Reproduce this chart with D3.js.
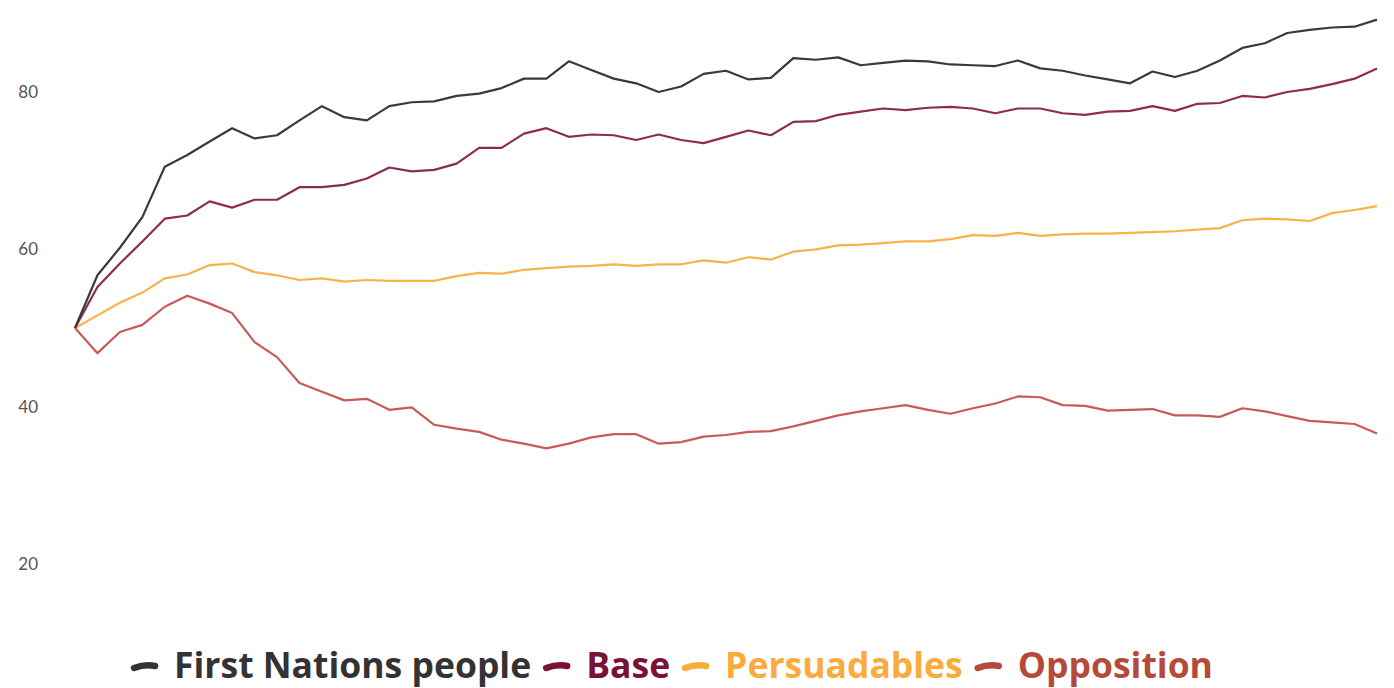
<!DOCTYPE html>
<html>
<head>
<meta charset="utf-8">
<script src="https://cdn.jsdelivr.net/npm/d3@7"></script>
<style>
  body { margin: 0; background: #fff; }
  .axisText { font-family: "Lato", sans-serif; font-size: 17px; fill: #555; }
  .legendText { font-family: "Open Sans", sans-serif; font-weight: 700; font-size: 35.5px; }
</style>
</head>
<body>
<div id="chart"></div>
<script>
// Step 1: data
//=================================
var seriesNames = ["First Nations people", "Base", "Persuadables", "Opposition"];
var seriesColors = ["#333333", "#7a1236", "#fbab3c", "#b54a3a"];
var lineColors = ["#3a3a3a", "#8e2a55", "#f9b24a", "#c85a57"];
var yTicks = [20, 40, 60, 80];

var firstNations = [50, 56.7, 60.2, 64.1, 70.5, 72.0, 73.7, 75.4, 74.1, 74.5,
  76.4, 78.2, 76.8, 76.4, 78.2, 78.7, 78.8, 79.5, 79.8, 80.5,
  81.7, 81.7, 83.9, 82.8, 81.7, 81.1, 80.0, 80.7, 82.3, 82.7,
  81.6, 81.8, 84.3, 84.1, 84.4, 83.4, 83.7, 84.0, 83.9, 83.5,
  83.4, 83.3, 84.0, 83.0, 82.7, 82.1, 81.6, 81.1, 82.6, 81.9,
  82.7, 84.0, 85.6, 86.2, 87.5, 87.9, 88.2, 88.3, 89.2];

var base = [50, 55.2, 58.2, 61.0, 63.9, 64.3, 66.1, 65.3, 66.3, 66.3,
  67.9, 67.9, 68.2, 69.0, 70.4, 69.9, 70.1, 70.9, 72.9, 72.9,
  74.7, 75.4, 74.3, 74.6, 74.5, 73.9, 74.6, 73.9, 73.5, 74.3,
  75.1, 74.5, 76.2, 76.3, 77.1, 77.5, 77.9, 77.7, 78.0, 78.1,
  77.9, 77.3, 77.9, 77.9, 77.3, 77.1, 77.5, 77.6, 78.2, 77.6,
  78.5, 78.6, 79.5, 79.3, 80.0, 80.4, 81.0, 81.7, 83.0];

var persuadables = [50, 51.6, 53.2, 54.5, 56.3, 56.8, 58.0, 58.2, 57.1, 56.7,
  56.1, 56.3, 55.9, 56.1, 56.0, 56.0, 56.0, 56.6, 57.0, 56.9,
  57.4, 57.6, 57.8, 57.9, 58.1, 57.9, 58.1, 58.1, 58.6, 58.3,
  59.0, 58.7, 59.7, 60.0, 60.5, 60.6, 60.8, 61.0, 61.0, 61.3,
  61.8, 61.7, 62.1, 61.7, 61.9, 62.0, 62.0, 62.1, 62.2, 62.3,
  62.5, 62.7, 63.7, 63.9, 63.8, 63.6, 64.6, 65.0, 65.5];

var opposition = [50, 46.8, 49.5, 50.4, 52.7, 54.1, 53.1, 51.9, 48.2, 46.3,
  43.0, 41.9, 40.8, 41.0, 39.6, 39.9, 37.7, 37.2, 36.8, 35.8,
  35.3, 34.7, 35.3, 36.1, 36.5, 36.5, 35.3, 35.5, 36.2, 36.4,
  36.8, 36.9, 37.5, 38.2, 38.9, 39.4, 39.8, 40.2, 39.6, 39.1,
  39.8, 40.4, 41.3, 41.2, 40.2, 40.1, 39.5, 39.6, 39.7, 38.9,
  38.9, 38.7, 39.8, 39.4, 38.8, 38.2, 38.0, 37.8, 36.6];

var allSeries = [firstNations, base, persuadables, opposition];

// Step 2: svg and scales
//=================================
var svg_width = 1394;
var svg_height = 688;

var svg = d3.select("#chart")
  .append("svg")
  .attr("width", svg_width)
  .attr("height", svg_height);

var xScale = d3.scaleLinear()
  .domain([0, firstNations.length - 1])
  .range([75, 1377]);

var yScale = d3.scaleLinear()
  .domain([20, 80])
  .range([564, 92]);

// y axis: labels only
var leftAxis = d3.axisLeft(yScale)
  .tickValues(yTicks)
  .tickSize(0)
  .tickPadding(0);

var yAxis = svg.append("g")
  .attr("transform", "translate(38, 0)")
  .call(leftAxis);
yAxis.select(".domain").remove();
yAxis.selectAll("text")
  .attr("class", "axisText")
  .attr("fill", null)
  .attr("font-size", null)
  .attr("font-family", null);

// Step 3: the lines
//=================================
var line = d3.line()
  .x((d, i) => xScale(i))
  .y(d => yScale(d));

// draw opposition first so darker lines sit on top
[3, 2, 1, 0].forEach(function(k) {
  svg.append("path")
    .datum(allSeries[k])
    .attr("fill", "none")
    .attr("stroke", lineColors[k])
    .attr("stroke-width", 2.2)
    .attr("stroke-linejoin", "round")
    .attr("d", line);
});

// Step 4: legend
//=================================
var legend = svg.append("g");
var cursor = 0;
seriesNames.forEach(function(name, k) {
  var item = legend.append("g").attr("transform", `translate(${cursor}, 0)`);
  item.append("path")
    .attr("d", "M3,3 Q14,-1 24,1")
    .attr("stroke", seriesColors[k])
    .attr("stroke-width", 6.5)
    .attr("stroke-linecap", "round")
    .attr("fill", "none");
  var t = item.append("text")
    .attr("class", "legendText")
    .attr("x", 43)
    .attr("y", 13)
    .attr("fill", seriesColors[k])
    .text(name);
  cursor += 43 + t.node().getComputedTextLength() + 12;
});
var legendWidth = cursor - 12;
legend.attr("transform", `translate(${(1342 - legendWidth) / 2 + 1}, 665)`);
</script>
</body>
</html>
